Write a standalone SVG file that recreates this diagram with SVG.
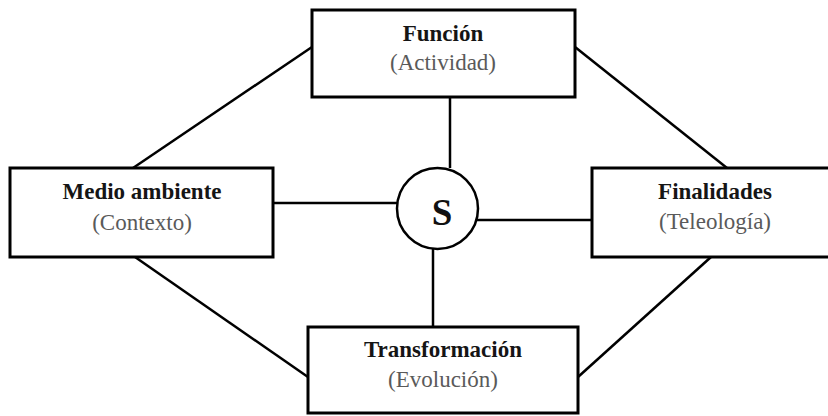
<svg xmlns="http://www.w3.org/2000/svg" width="828" height="416" viewBox="0 0 828 416">
<style>
.box{fill:#fff;stroke:#000;stroke-width:3}
.ln{stroke:#000;stroke-width:2.5;fill:none}
.t1{font-family:"Liberation Serif","Times New Roman",serif;font-weight:bold;font-size:23px;fill:#151515;text-anchor:middle}
.t2{font-family:"Liberation Serif","Times New Roman",serif;font-size:23px;fill:#5a5a5a;text-anchor:middle}
.s{font-family:"Liberation Serif","Times New Roman",serif;font-weight:bold;font-size:37px;fill:#111;text-anchor:middle}
</style>
<rect width="828" height="416" fill="#fff"/>
<g id="connectors">
<line class="ln" x1="450" y1="97" x2="450" y2="168"/>
<line class="ln" x1="433" y1="249" x2="433" y2="327"/>
<line class="ln" x1="273" y1="203" x2="398" y2="203"/>
<line class="ln" x1="477" y1="220" x2="592" y2="220"/>
<line class="ln" x1="133" y1="168" x2="312" y2="47"/>
<line class="ln" x1="575" y1="47" x2="727" y2="168"/>
<line class="ln" x1="135" y1="257" x2="308" y2="377"/>
<line class="ln" x1="578" y1="377" x2="711" y2="257"/>
</g>
<g id="funcion">
<rect class="box" x="312" y="10" width="263" height="87"/>
<text class="t1" x="443" y="41">Función</text>
<text class="t2" x="443" y="70">(Actividad)</text>
</g>
<g id="medio">
<rect class="box" x="10" y="168" width="263" height="89"/>
<text class="t1" x="142" y="199">Medio ambiente</text>
<text class="t2" x="142" y="230">(Contexto)</text>
</g>
<g id="finalidades">
<rect class="box" x="592" y="168" width="250" height="89"/>
<text class="t1" x="715" y="199">Finalidades</text>
<text class="t2" x="715" y="229">(Teleología)</text>
</g>
<g id="transformacion">
<rect class="box" x="308" y="327" width="270" height="86"/>
<text class="t1" x="443" y="357">Transformación</text>
<text class="t2" x="443" y="387">(Evolución)</text>
</g>
<g id="s">
<circle cx="437.5" cy="208.5" r="40.5" fill="#fff" stroke="#000" stroke-width="2.5"/>
<text class="s" x="442" y="225">S</text>
</g>
</svg>
